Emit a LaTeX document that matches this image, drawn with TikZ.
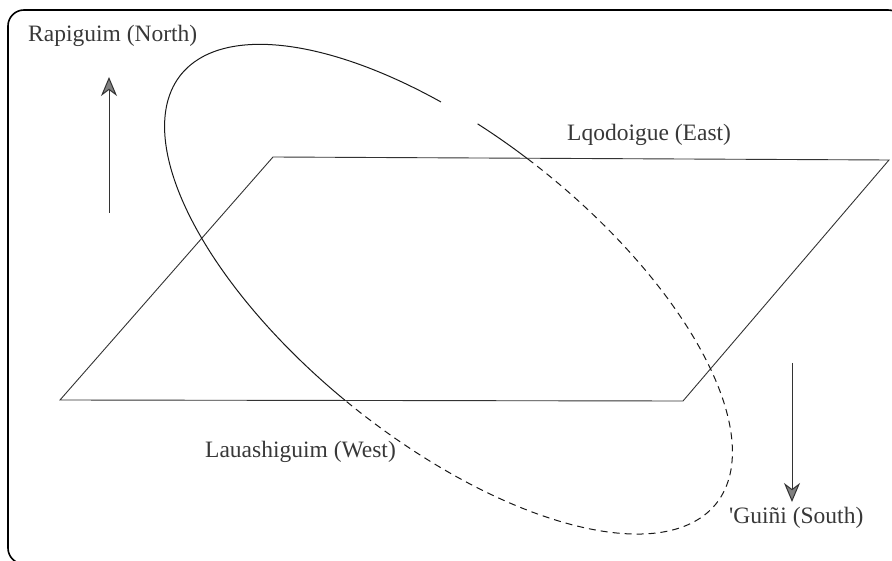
\documentclass[tikz,border=0pt]{standalone}
\usepackage{fontspec}
\setmainfont{Liberation Serif}
\usetikzlibrary{arrows.meta}
\begin{document}
\begin{tikzpicture}[x=1pt,y=1pt,
  lbl/.style={inner sep=0pt, text=black!78, font=\fontsize{23.5}{26}\selectfont},
  shape line/.style={line width=0.9pt, black!80},
  ell/.style={line width=1pt, black!90},
  dir arrow/.style={line width=1pt, black!80, -{Stealth[length=19pt,width=16pt,inset=6pt,fill=black!50]}}]
\useasboundingbox (0,0) rectangle (892,-561);
\clip (0,0) rectangle (892,-561);
% frame
\draw[line width=1.6pt, rounded corners=16pt] (8,-10) rectangle (904,-564);
% parallelogram
\coordinate (bl) at (60,-400);
\coordinate (br) at (683,-401);
\coordinate (tr) at (889,-160);
\coordinate (tl) at (273,-157);
\draw[shape line] (bl) -- (tl) -- (tr) -- (br) -- cycle;
% tilted ellipse
\begin{scope}[shift={(448.5,-289.2)}, rotate=-38.7]
  \draw[ell] plot[smooth, domain=111:268.1, samples=100] ({343*cos(\x)},{151.5*sin(\x)});
  \draw[ell] plot[smooth, domain=93.3:103.6, samples=10] ({343*cos(\x)},{151.5*sin(\x)});
  \draw[ell, dash pattern=on 7pt off 5pt] plot[smooth, domain=93.3:-91.9, samples=120] ({343*cos(\x)},{151.5*sin(\x)});
\end{scope}
% labels
\node[lbl, anchor=west] (north) at (28,-36) {Rapiguim (North)};
\node[lbl, anchor=west] (east) at (567,-135) {Lqodoigue (East)};
\node[lbl, anchor=west] (west) at (205,-452) {Lauashiguim (West)};
\node[lbl, anchor=west] (south) at (729,-518) {\textquotesingle Guiñi (South)};
% direction arrows
\coordinate (n0) at (109,-213);
\coordinate (n1) at (109,-77);
\coordinate (s0) at (792,-363);
\coordinate (s1) at (792,-502);
\draw[dir arrow] (n0) -- (n1);
\draw[dir arrow] (s0) -- (s1);
\end{tikzpicture}
\end{document}
